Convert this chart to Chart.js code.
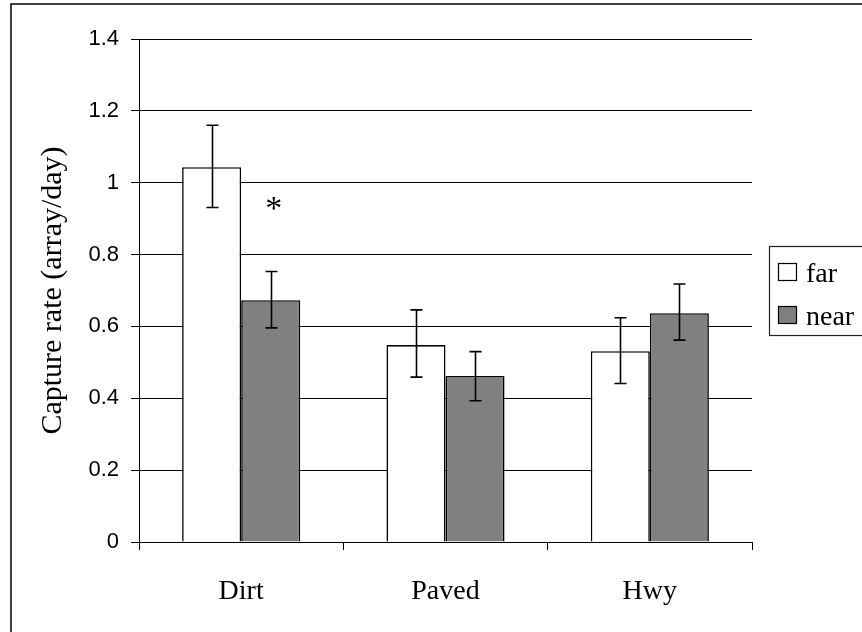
<!DOCTYPE html>
<html>
<head>
<meta charset="utf-8">
<script src="https://cdn.jsdelivr.net/npm/chart.js@4/dist/chart.umd.min.js"></script>
<style>
  html, body { margin: 0; padding: 0; background: #fff; }
  canvas { display: block; }
</style>
</head>
<body>
<canvas id="chartCanvas" width="862" height="632"></canvas>
<script>
const categories = ["Dirt", "Paved", "Hwy"];
const seriesNames = ["far", "near"];
const farValues = [1.043, 0.548, 0.531];
const nearValues = [0.673, 0.462, 0.637];
const farLow = [0.931, 0.459, 0.441];
const farHigh = [1.16, 0.646, 0.624];
const nearLow = [0.596, 0.393, 0.562];
const nearHigh = [0.753, 0.53, 0.718];
const yTickLabels = ["0", "0.2", "0.4", "0.6", "0.8", "1", "1.2", "1.4"];
const starMark = { category: 0, series: 1, value: 0.944, text: "*" };

const serif = "'Liberation Serif', 'Times New Roman', serif";
const sans = "'Liberation Sans', Arial, sans-serif";

// error bars, asterisk, legend box and the outer frame
const extras = {
  id: "extras",
  afterDatasetsDraw(chart) {
    const ctx = chart.ctx;
    const y = chart.scales.y;
    const errs = [[farLow, farHigh], [nearLow, nearHigh]];
    ctx.save();
    ctx.strokeStyle = "#000";
    ctx.lineWidth = 1.6;
    errs.forEach(([lo, hi], d) => {
      chart.getDatasetMeta(d).data.forEach((bar, i) => {
        const x = Math.round(bar.x) + 0.5;
        const y1 = y.getPixelForValue(hi[i]);
        const y2 = y.getPixelForValue(lo[i]);
        ctx.beginPath();
        ctx.moveTo(x, y1); ctx.lineTo(x, y2);
        ctx.moveTo(x - 6, y1); ctx.lineTo(x + 6, y1);
        ctx.moveTo(x - 6, y2); ctx.lineTo(x + 6, y2);
        ctx.stroke();
      });
    });

    const sb = chart.getDatasetMeta(starMark.series).data[starMark.category];
    ctx.fillStyle = "#000";
    ctx.font = "34px " + serif;
    ctx.textAlign = "center";
    ctx.textBaseline = "alphabetic";
    ctx.fillText(starMark.text, sb.x + 3, y.getPixelForValue(starMark.value) + 16);

    // legend
    ctx.lineWidth = 1.2;
    ctx.strokeStyle = "#222";
    ctx.strokeRect(769.5, 246.5, 110, 89);
    ctx.font = "28px " + serif;
    ctx.textAlign = "left";
    chart.data.datasets.forEach((ds, i) => {
      const top = 263 + i * 43;
      ctx.fillStyle = ds.backgroundColor;
      ctx.fillRect(778.5, top + 0.5, 18, 17);
      ctx.strokeStyle = "#000";
      ctx.strokeRect(778.5, top + 0.5, 18, 17);
      ctx.fillStyle = "#000";
      ctx.fillText(ds.label, 806, top + 19);
    });

    // outer frame (left and top edges visible)
    ctx.lineWidth = 1.5;
    ctx.strokeStyle = "#000";
    ctx.beginPath();
    ctx.moveTo(11, 640); ctx.lineTo(11, 4); ctx.lineTo(870, 4);
    ctx.stroke();
    ctx.restore();
  }
};

new Chart(chartCanvas, {
  type: "bar",
  data: {
    labels: categories,
    datasets: [
      { label: seriesNames[0], data: farValues, backgroundColor: "#ffffff", borderColor: "#000", borderWidth: 1.6 },
      { label: seriesNames[1], data: nearValues, backgroundColor: "#808080", borderColor: "#000", borderWidth: 1.6 }
    ]
  },
  options: {
    responsive: false,
    animation: false,
    layout: { padding: { left: 0, top: 39, right: 110, bottom: 0 } },
    datasets: { bar: { categoryPercentage: 0.578, barPercentage: 1.0 } },
    plugins: { legend: { display: false }, tooltip: { enabled: false } },
    scales: {
      x: {
        offset: true,
        afterFit(s) { s.height = 90; },
        grid: { offset: true, drawOnChartArea: false, drawTicks: true, tickLength: 8, color: "#000" },
        border: { display: true, color: "#000", width: 1 },
        ticks: { color: "#000", padding: 25, font: { family: serif, size: 28 } }
      },
      y: {
        min: 0,
        max: 1.4,
        afterFit(s) { s.width = 139; },
        grid: { color: "#000", lineWidth: 1, tickLength: 8 },
        border: { display: true, color: "#000", width: 1 },
        ticks: {
          stepSize: 0.2,
          color: "#000",
          padding: 12,
          font: { family: sans, size: 22 },
          callback: (v, i) => yTickLabels[i]
        },
        title: {
          display: true,
          text: "Capture rate (array/day)",
          color: "#000",
          padding: { top: 35, bottom: 0 },
          font: { family: serif, size: 30 }
        }
      }
    }
  },
  plugins: [extras]
});
</script>
</body>
</html>
